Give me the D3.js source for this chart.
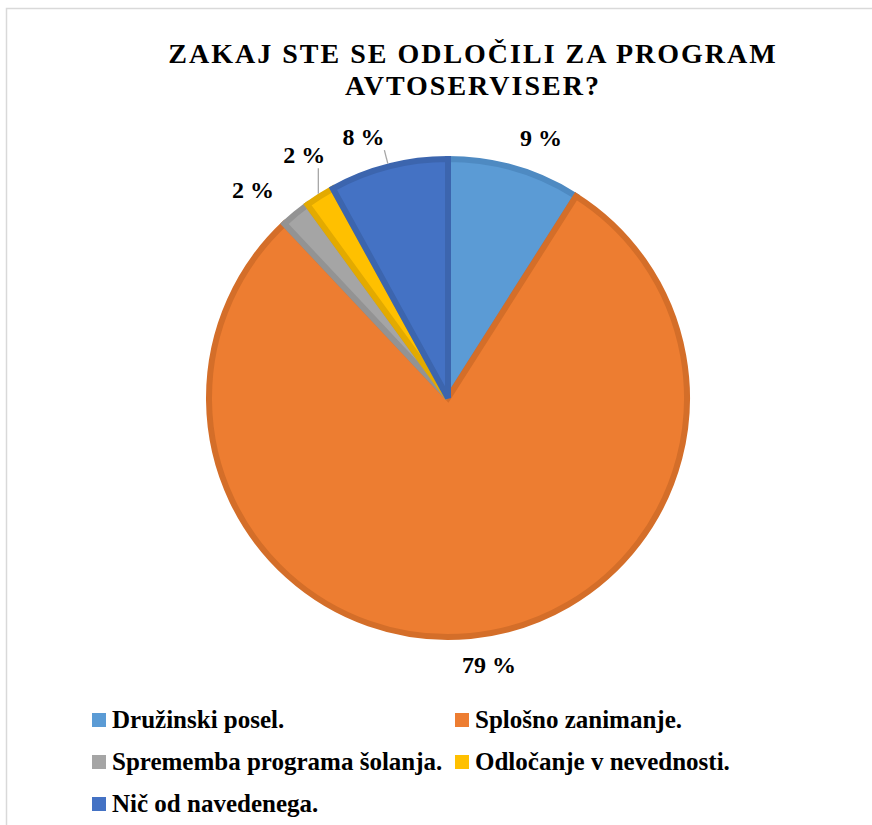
<!DOCTYPE html>
<html>
<head>
<meta charset="utf-8">
<script src="https://cdn.jsdelivr.net/npm/d3@7"></script>
<style>
  body { margin: 0; background: #fff; }
  svg text { font-family: "Liberation Serif", Tinos, "Times New Roman", "DejaVu Serif", serif; font-weight: bold; fill: #000; }
</style>
</head>
<body>
<svg id="chart" width="872" height="825"></svg>
<script>
// Data
const categories = ["Družinski posel.", "Splošno zanimanje.", "Sprememba programa šolanja.", "Odločanje v nevednosti.", "Nič od navedenega."];
const values = [9, 79, 2, 2, 8];
const titleLines = ["ZAKAJ STE SE ODLOČILI ZA PROGRAM", "AVTOSERVISER?"];

// Style
const fills = ["#5B9BD5", "#ED7D31", "#A5A5A5", "#FFC000", "#4472C4"];
const strokes = ["#4E8AC2", "#D46E29", "#939393", "#E3AA00", "#3C65AE"];

// Layout
const width = 872, height = 825;
const cx = 448, cy = 398, radius = 242, borderW = 6;
const labelRadius = 276;
// small shifts so labels sit where the original put them
const labelNudge = [[16, 5], [15, -8], [-19, 4], [4, -10], [-16, 6]];
const hasLeader = [false, false, false, true, true];

const svg = d3.select("#chart");

// chart frame (left and top edge visible)
svg.append("rect")
    .attr("x", 6.5).attr("y", 8.5)
    .attr("width", 1000).attr("height", 1000)
    .attr("fill", "#fff")
    .attr("stroke", "#D9D9D9")
    .attr("stroke-width", 1.5);

// Title, one text block with a line per tspan
svg.append("text")
    .attr("text-anchor", "middle")
    .style("font-size", "28px")
    .style("letter-spacing", "2px")
    .selectAll("tspan")
    .data(titleLines)
    .join("tspan")
    .attr("x", 473)
    .attr("y", (d, i) => 63 + i * 32)
    .text(d => d);

// Pie
const pie = d3.pie().sort(null).value(d => d)(values);
const arc = d3.arc().innerRadius(0).outerRadius(radius - borderW / 2);
const edgeArc = d3.arc().innerRadius(radius).outerRadius(radius);
const labelArc = d3.arc().innerRadius(labelRadius).outerRadius(labelRadius);

const g = svg.append("g").attr("transform", `translate(${cx},${cy})`);

g.selectAll("path")
    .data(pie)
    .join("path")
    .attr("d", arc)
    .attr("fill", (d, i) => fills[i])
    .attr("stroke", (d, i) => strokes[i])
    .attr("stroke-width", borderW)
    .attr("stroke-linejoin", "miter");

// Labels
const labels = g.selectAll("text.lbl")
    .data(pie)
    .join("text")
    .attr("class", "lbl")
    .attr("text-anchor", "middle")
    .attr("dy", "0.35em")
    .style("font-size", "24px")
    .attr("x", (d, i) => labelArc.centroid(d)[0] + labelNudge[i][0])
    .attr("y", (d, i) => labelArc.centroid(d)[1] + labelNudge[i][1])
    .text(d => d.value + " %");

// Leader lines from the label box to the slice edge
labels.each(function(d, i) {
    if (!hasLeader[i]) return;
    const b = this.getBBox();
    const p = edgeArc.centroid(d);
    const sx = Math.max(b.x, Math.min(p[0], b.x + b.width));
    const sy = Math.max(b.y, Math.min(p[1], b.y + b.height - 2));
    g.append("line")
        .attr("x1", sx).attr("y1", sy + 2)
        .attr("x2", p[0]).attr("y2", p[1])
        .attr("stroke", "#A6A6A6")
        .attr("stroke-width", 1.3);
});

// Legend
const legendX = [92, 455], legendY = [720, 762, 804];
const legend = svg.append("g").selectAll("g")
    .data(categories)
    .join("g")
    .attr("transform", (d, i) => `translate(${legendX[i % 2]},${legendY[Math.floor(i / 2)]})`);

legend.append("rect")
    .attr("x", 0).attr("y", -7)
    .attr("width", 14).attr("height", 14)
    .attr("fill", (d, i) => fills[i]);

legend.append("text")
    .attr("x", 20)
    .attr("y", 8)
    .style("font-size", "25px")
    .text(d => d);
</script>
</body>
</html>
